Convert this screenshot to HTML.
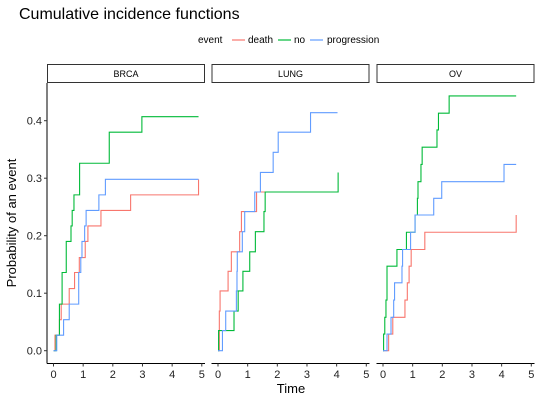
<!DOCTYPE html>
<html><head><meta charset="utf-8"><style>
body{margin:0;background:#fff;}
svg text{font-family:"Liberation Sans",Arial,sans-serif;}
</style></head><body>
<svg id="chart" width="540" height="400" viewBox="0 0 540 400" xmlns="http://www.w3.org/2000/svg">
<text x="19" y="19" font-size="16" fill="#000">Cumulative incidence functions</text>
<g font-size="10">
<text x="198" y="43">event</text>
<line x1="232" y1="40" x2="245" y2="40" stroke="#F8766D" stroke-width="1.2"/>
<text x="248" y="43">death</text>
<line x1="278" y1="40" x2="291" y2="40" stroke="#00BA38" stroke-width="1.2"/>
<text x="294" y="43">no</text>
<line x1="310" y1="40" x2="323" y2="40" stroke="#619CFF" stroke-width="1.2"/>
<text x="327" y="43">progression</text>
</g>
<text x="291" y="393" font-size="13" text-anchor="middle">Time</text>
<text transform="translate(16,223) rotate(-90)" font-size="13" text-anchor="middle">Probability of an event</text>
<g id="plot"></g>
</svg>
<script>
const panels = ["BRCA","LUNG","OV"];
const xTicks = [0,1,2,3,4,5];
const yTicks = [0.0,0.1,0.2,0.3,0.4];
const yTickLabels = ["0.0","0.1","0.2","0.3","0.4"];
const seriesNames = ["death","no","progression"];
const seriesColors = ["#F8766D","#00BA38","#619CFF"];
// BRCA
const brcaDeathT = [0.05,0.2,0.26,0.53,0.71,0.87,1.07,1.16,1.6,2.6,4.89];
const brcaDeathV = [0.027,0.054,0.081,0.108,0.136,0.162,0.19,0.217,0.244,0.271,0.298];
const brcaNoT = [0.09,0.2,0.29,0.43,0.59,0.63,0.69,0.88,1.88,2.98];
const brcaNoV = [0.027,0.081,0.136,0.19,0.217,0.244,0.271,0.326,0.38,0.407];
const brcaProgT = [0.11,0.34,0.53,0.85,0.92,0.96,1.05,1.1,1.53,1.75];
const brcaProgV = [0.027,0.054,0.081,0.136,0.162,0.19,0.217,0.244,0.271,0.298];
const brcaEnd = [4.89,4.89,4.89];
// LUNG
const lungDeathT = [0.045,0.07,0.34,0.45,0.73,0.79,1.3];
const lungDeathV = [0.069,0.104,0.138,0.172,0.207,0.242,0.276];
const lungNoT = [0.02,0.54,0.68,0.84,1.07,1.26,1.55,1.59,4.05];
const lungNoV = [0.035,0.069,0.104,0.138,0.172,0.207,0.242,0.276,0.31];
const lungProgT = [0.15,0.26,0.62,0.64,0.65,0.82,0.9,1.24,1.43,1.86,2.03,3.12];
const lungProgV = [0.035,0.069,0.104,0.138,0.172,0.207,0.242,0.276,0.31,0.345,0.38,0.414];
const lungEnd = [4.05,4.05,4.03];
// OV
const ovDeathT = [0.19,0.33,0.74,0.82,0.88,0.95,1.41,4.49];
const ovDeathV = [0.029,0.058,0.088,0.118,0.147,0.176,0.206,0.236];
const ovNoT = [0.02,0.06,0.1,0.135,0.47,0.79,1.08,1.16,1.18,1.28,1.32,1.82,1.87,2.23];
const ovNoV = [0.029,0.058,0.088,0.147,0.176,0.206,0.236,0.265,0.294,0.324,0.354,0.384,0.413,0.443];
const ovProgT = [0.135,0.27,0.36,0.39,0.64,0.66,0.93,1.08,1.71,1.98,4.08];
const ovProgV = [0.029,0.058,0.088,0.118,0.147,0.176,0.206,0.236,0.265,0.294,0.324];
const ovEnd = [4.49,4.49,4.49];

const panelSeries = [
  [[brcaDeathT,brcaDeathV],[brcaNoT,brcaNoV],[brcaProgT,brcaProgV]],
  [[lungDeathT,lungDeathV],[lungNoT,lungNoV],[lungProgT,lungProgV]],
  [[ovDeathT,ovDeathV],[ovNoT,ovNoV],[ovProgT,ovProgV]]
];
const panelEnds = [brcaEnd,lungEnd,ovEnd];

const NS="http://www.w3.org/2000/svg";
const plotG=document.getElementById('plot');
function mk(tag,attrs,parent){const e=document.createElementNS(NS,tag);for(const k in attrs)e.setAttribute(k,attrs[k]);(parent||plotG).appendChild(e);return e;}
const panelLeft=[47,211.5,376.5], panelW=158, plotTop=83, plotBottom=363.5;
function xScale(p,t){return panelLeft[p]+6.5+t*29.66;}
function yScale(v){return 350.7-v*575;}

panels.forEach((name,p)=>{
  const g=mk('g',{});
  
  
  const strip=mk('rect',{x:panelLeft[p]+0.5,y:64.5,width:panelW-1,height:18,fill:'#fff',stroke:'#333','stroke-width':1},g);
  
  
  const st=mk('text',{x:panelLeft[p]+panelW/2,y:77,'font-size':9,'text-anchor':'middle'},g);
  
  
  st.textContent=name;
  const xa=mk('line',{x1:panelLeft[p],y1:plotBottom,x2:panelLeft[p]+panelW,y2:plotBottom,stroke:'#000','stroke-width':1},g);
  
  
  xTicks.forEach(t=>{
    const x=xScale(p,t);
    const tk=mk('line',{x1:x,y1:plotBottom,x2:x,y2:plotBottom+3,stroke:'#333'},g);
    
    
    const tl=mk('text',{x:x,y:378,'font-size':11,'text-anchor':'middle',fill:'#222'},g);
    
    
    tl.textContent=t;
  });
  panelSeries[p].forEach((s,si)=>{
    const T=s[0],V=s[1];
    let d='M'+xScale(p,0)+','+yScale(0);
    for(let i=0;i<T.length;i++){d+=' H'+xScale(p,T[i])+' V'+yScale(V[i]);}
    d+=' H'+xScale(p,Math.max(panelEnds[p][si],T[T.length-1]));
    const path=mk('path',{d:d,fill:'none',stroke:seriesColors[si],'stroke-width':1.1},g);
    
    
  });
});
const ya=mk('line',{x1:47,y1:plotTop,x2:47,y2:plotBottom,stroke:'#000','stroke-width':1});


yTicks.forEach((v,i)=>{
  const y=yScale(v);
  const tk=mk('line',{x1:44,y1:y,x2:47,y2:y,stroke:'#333'});
  
  
  const tl=mk('text',{x:42,y:y+4,'font-size':11,'text-anchor':'end',fill:'#222'});
  
  
  tl.textContent=yTickLabels[i];
});
</script>
</body></html>
